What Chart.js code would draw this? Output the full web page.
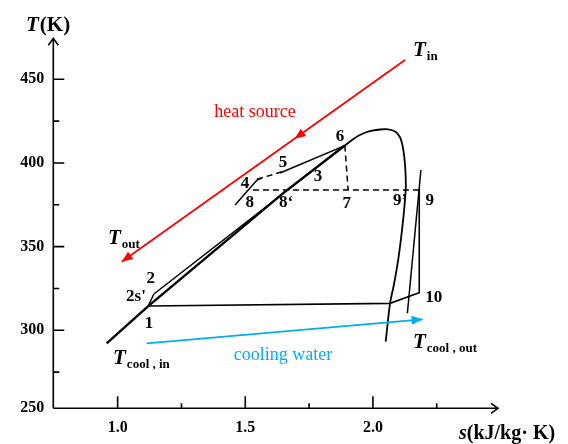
<!DOCTYPE html>
<html>
<head>
<meta charset="utf-8">
<script src="https://cdn.jsdelivr.net/npm/chart.js@4.4.1/dist/chart.umd.min.js"></script>
<style>
  html, body { margin: 0; padding: 0; background: #fff; }
  #wrap { width: 568px; height: 444px; position: relative; }
</style>
</head>
<body>
<div id="wrap"><canvas id="ts"></canvas></div>
<script>
// T-s diagram of the cycle, s in kJ/(kg K), T in K

// saturated liquid line up to state 6
var liqS = [0.957, 1.120, 1.651, 1.890];
var liqT = [292.2, 314.5, 382.3, 410.4];

// dome top and saturated vapour line
var domeS = [1.890, 1.918, 1.949, 1.988, 2.028, 2.059, 2.087, 2.106, 2.118, 2.126, 2.129, 2.124, 2.114, 2.100, 2.082, 2.067, 2.050];
var domeT = [410.4, 413.7, 416.7, 419.0, 420.0, 420.1, 418.8, 415.5, 408.9, 398.8, 386.2, 374.9, 359.9, 343.2, 327.1, 316.1, 293.2];

// pump 1 -> 2 and heating 2 -> 6
var pumpS = [1.120, 1.142];
var pumpT = [314.5, 321.7];
var heatS = [1.142, 1.890];
var heatT = [321.7, 410.4];

// 5 -> 6
var lineS56 = [1.636, 1.890];
var lineT56 = [394.0, 410.4];

// short segment through 4
var seg4S = [1.460, 1.546, 1.565];
var seg4T = [374.9, 389.8, 391.0];

// condensation 1 <- 10 <- 9
var condS = [1.120, 2.067, 2.1815, 2.1815];
var condT = [314.5, 316.1, 322.5, 384.5];

// line right of the dome
var rightS = [2.188, 2.135];
var rightT = [395.8, 310.2];

// dashed guides
var dashHS = [1.530, 2.184];
var dashHT = [383.8, 383.8];
var dashVS = [1.890, 1.903];
var dashVT = [410.4, 383.8];
var dash45S = [1.546, 1.650];
var dash45T = [390.3, 395.0];

// heat source and cooling water streams
var hotS = [2.1256, 1.0159];
var hotT = [461.5, 341.0];
var coolS = [1.1138, 2.1949];
var coolT = [292.2, 306.6];

// axis ticks
var xMajor = [1.0, 1.5, 2.0];
var xMinor = [1.25, 1.75, 2.25];
var yMajor = [250, 300, 350, 400, 450];
var yMinor = [275, 325, 375, 425];

var X_MIN = 0.748, X_MAX = 2.49, Y_MIN = 253.4, Y_MAX = 474.5;

// point labels [text, s, T]
var stateLabels = [
  ["6", 1.871, 415.5], ["5", 1.648, 400.0], ["3", 1.785, 391.6], ["4", 1.499, 387.4],
  ["8", 1.518, 376.1], ["8\u2018", 1.660, 376.1], ["7", 1.898, 375.5], ["9\u2019", 2.106, 377.3],
  ["9", 2.223, 377.3], ["2", 1.130, 330.7], ["2s'", 1.072, 319.9], ["1", 1.123, 303.8],
  ["10", 2.238, 319.3]
];
// temperature labels [main, subscript, s, T]
var tempLabels = [
  ["T", "in", 2.157, 467.5], ["T", "out", 0.962, 355.2],
  ["T", "cool , in", 0.982, 283.5], ["T", "cool , out", 2.157, 293.0]
];

var SERIF = "'Liberation Serif', 'Times New Roman', serif";
var RED = "#ff0000", BLUE = "#00aeef";

function pts(xs, ys) {
  return xs.map(function (x, i) { return { x: x, y: ys[i] }; });
}

function line(xs, ys, color, width, extra) {
  var d = {
    data: pts(xs, ys), showLine: true, borderColor: color, borderWidth: width,
    pointRadius: 0, fill: false, tension: 0
  };
  for (var k in extra) d[k] = extra[k];
  return d;
}

function head(ctx, x1, y1, x2, y2, len, half, color) {
  var a = Math.atan2(y2 - y1, x2 - x1);
  ctx.save();
  ctx.fillStyle = color;
  ctx.beginPath();
  ctx.moveTo(x2, y2);
  ctx.lineTo(x2 - len * Math.cos(a) + half * Math.sin(a), y2 - len * Math.sin(a) - half * Math.cos(a));
  ctx.lineTo(x2 - len * Math.cos(a) - half * Math.sin(a), y2 - len * Math.sin(a) + half * Math.cos(a));
  ctx.closePath();
  ctx.fill();
  ctx.restore();
}

// axes with arrows, inward ticks, titles and annotations
var decor = {
  id: "decor",
  afterDatasetsDraw: function (chart) {
    var ctx = chart.ctx, xs = chart.scales.x, ys = chart.scales.y, a = chart.chartArea;
    var x0 = a.left, y0 = a.bottom;
    ctx.save();
    ctx.strokeStyle = "#000";
    ctx.lineWidth = 1.6;
    ctx.beginPath();
    ctx.moveTo(x0, y0); ctx.lineTo(x0, a.top);
    ctx.moveTo(x0, y0); ctx.lineTo(a.right, y0);
    // open arrow heads
    ctx.moveTo(x0 - 5, a.top + 7); ctx.lineTo(x0, a.top); ctx.lineTo(x0 + 5, a.top + 7);
    ctx.moveTo(a.right - 7, y0 - 5); ctx.lineTo(a.right, y0); ctx.lineTo(a.right - 7, y0 + 5);
    xMajor.forEach(function (v) { var p = xs.getPixelForValue(v); ctx.moveTo(p, y0); ctx.lineTo(p, y0 - 12); });
    xMinor.forEach(function (v) { var p = xs.getPixelForValue(v); ctx.moveTo(p, y0); ctx.lineTo(p, y0 - 5); });
    yMajor.forEach(function (v) { if (v < Y_MIN) return; var p = ys.getPixelForValue(v); ctx.moveTo(x0, p); ctx.lineTo(x0 + 11, p); });
    yMinor.forEach(function (v) { var p = ys.getPixelForValue(v); ctx.moveTo(x0, p); ctx.lineTo(x0 + 6, p); });
    ctx.stroke();

    // stream arrows
    var hx1 = xs.getPixelForValue(hotS[0]), hy1 = ys.getPixelForValue(hotT[0]);
    var hx2 = xs.getPixelForValue(hotS[1]), hy2 = ys.getPixelForValue(hotT[1]);
    head(ctx, hx1, hy1, hx2, hy2, 11, 4.5, RED);
    var f = 0.39;
    head(ctx, hx1, hy1, hx1 + (hx2 - hx1) * f, hy1 + (hy2 - hy1) * f, 11, 4.5, RED);
    head(ctx, xs.getPixelForValue(coolS[0]), ys.getPixelForValue(coolT[0]),
      xs.getPixelForValue(coolS[1]), ys.getPixelForValue(coolT[1]), 11, 4.5, BLUE);

    // axis titles
    ctx.fillStyle = "#000";
    ctx.textBaseline = "alphabetic";
    ctx.textAlign = "left";
    ctx.font = "italic bold 21px " + SERIF;
    ctx.fillText("T", 26, 31);
    var w = ctx.measureText("T").width;
    ctx.font = "bold 21px " + SERIF;
    ctx.fillText("(K)", 26 + w + 1, 31);
    ctx.font = "italic bold 20px " + SERIF;
    ctx.fillText("s", 459, 439);
    w = ctx.measureText("s").width;
    ctx.font = "bold 20px " + SERIF;
    ctx.fillText("(kJ/kg\u00b7 K)", 459 + w, 439);

    // state numbers
    ctx.textAlign = "center";
    ctx.textBaseline = "middle";
    ctx.font = "bold 17px " + SERIF;
    stateLabels.forEach(function (l) {
      ctx.fillText(l[0], xs.getPixelForValue(l[1]), ys.getPixelForValue(l[2]));
    });

    // stream temperatures
    ctx.textAlign = "left";
    ctx.textBaseline = "alphabetic";
    tempLabels.forEach(function (l) {
      var px = xs.getPixelForValue(l[2]), py = ys.getPixelForValue(l[3]) + 6;
      ctx.font = "italic bold 21px " + SERIF;
      ctx.fillText(l[0], px, py);
      var tw = ctx.measureText(l[0]).width;
      ctx.font = "bold 13px " + SERIF;
      ctx.fillText(l[1], px + tw + 1, py + 4);
    });

    ctx.textAlign = "center";
    ctx.textBaseline = "middle";
    ctx.font = "18px " + SERIF;
    ctx.fillStyle = RED;
    ctx.fillText("heat source", xs.getPixelForValue(1.538), ys.getPixelForValue(430.5));
    ctx.fillStyle = BLUE;
    ctx.fillText("cooling water", xs.getPixelForValue(1.648), ys.getPixelForValue(285.2));
    ctx.restore();
  }
};

var datasets = [
  line(hotS, hotT, RED, 1.8),
  line(coolS, coolT, BLUE, 1.8),
  line(liqS, liqT, "#000", 2.4),
  line(domeS, domeT, "#000", 1.8, { tension: 0.25 }),
  line(pumpS, pumpT, "#000", 1.5),
  line(heatS, heatT, "#000", 1.5),
  line(lineS56, lineT56, "#000", 1.5),
  line(seg4S, seg4T, "#000", 1.5),
  line(condS, condT, "#000", 1.6),
  line(rightS, rightT, "#000", 1.5),
  line(dashHS, dashHT, "#000", 1.5, { borderDash: [6, 4] }),
  line(dashVS, dashVT, "#000", 1.5, { borderDash: [6, 4] }),
  line(dash45S, dash45T, "#000", 1.5, { borderDash: [6, 4] })
];

new Chart(document.getElementById("ts").getContext("2d"), {
  type: "scatter",
  data: { datasets: datasets },
  options: {
    responsive: true,
    maintainAspectRatio: false,
    animation: false,
    layout: { padding: { top: 38.3, right: 70, left: 0, bottom: 0 } },
    plugins: { legend: { display: false }, tooltip: { enabled: false } },
    scales: {
      x: {
        type: "linear",
        min: X_MIN,
        max: X_MAX,
        grid: { display: false, drawTicks: false, tickLength: 0 },
        border: { display: false },
        afterBuildTicks: function (s) { s.ticks = xMajor.map(function (v) { return { value: v }; }); },
        afterFit: function (s) { s.height = 444 - 408.3; },
        ticks: {
          padding: 10,
          color: "#000",
          font: { family: SERIF, size: 16, weight: "bold" },
          callback: function (v) { return Number(v).toFixed(1); }
        }
      },
      y: {
        type: "linear",
        min: Y_MIN,
        max: Y_MAX,
        grid: { display: false, drawTicks: false, tickLength: 0 },
        border: { display: false },
        afterBuildTicks: function (s) {
          s.ticks = yMajor.map(function (v) { return { value: Math.max(v, Y_MIN) }; });
        },
        afterFit: function (s) { s.width = 53.3; },
        ticks: {
          padding: 9,
          color: "#000",
          font: { family: SERIF, size: 16, weight: "bold" },
          callback: function (v, i) { return String(yMajor[i]); }
        }
      }
    }
  },
  plugins: [decor]
});
</script>
</body>
</html>
